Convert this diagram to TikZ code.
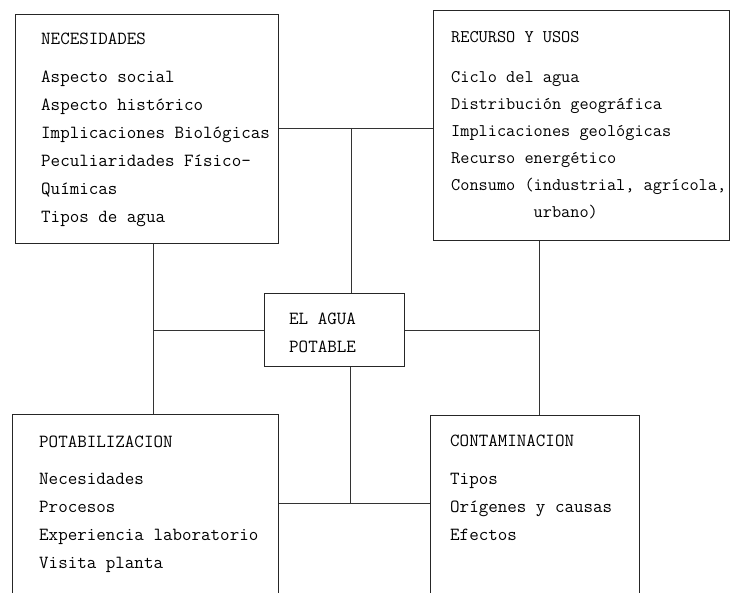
\documentclass[tikz,border=0pt]{standalone}
\usetikzlibrary{positioning}

\tikzset{
  box/.style={draw=black!85, line width=1pt, inner sep=0pt, anchor=north west},
  txt/.style={anchor=north west, inner sep=0pt, align=left,
    font=\ttfamily\fontsize{18.5}{28}\selectfont, text=black},
  link/.style={draw=black!80, line width=0.9pt}
}

\begin{document}
\begin{tikzpicture}[x=1pt, y=-1pt]
  \useasboundingbox (0,0) rectangle (731,593);
  \clip (0,0) rectangle (731,593);
  % boxes
  \node[box, minimum width=263pt, minimum height=229pt] (nec) at (15,14) {};
  \node[box, minimum width=296pt, minimum height=230pt] (rec) at (433,10) {};
  \node[box, minimum width=266pt, minimum height=195pt] (pot) at (12,414) {};
  \node[box, minimum width=209pt, minimum height=195pt] (cont) at (430,415) {};
  \node[box, minimum width=140pt, minimum height=73pt] (mid) at (264,293) {};
  % texts
  \node[txt, below right=19pt and 26pt of nec.north west] (nectxt) {NECESIDADES\\[10pt]
    Aspecto social\\
    Aspecto histórico\\
    Implicaciones Biológicas\\
    Peculiaridades Físico-\\
    Químicas\\
    Tipos de agua};
  \node[txt, below right=21pt and 18pt of rec.north west, font=\ttfamily\fontsize{17.8}{27}\selectfont] (rectxt) {RECURSO Y USOS\\[13pt]
    Ciclo del agua\\
    Distribución geográfica\\
    Implicaciones geológicas\\
    Recurso energético\\
    Consumo (industrial, agrícola,\\
    \phantom{Consumo (}urbano)};
  \node[txt, below right=22pt and 27pt of pot.north west] (pottxt) {POTABILIZACION\\[9pt]
    Necesidades\\
    Procesos\\
    Experiencia laboratorio\\
    Visita planta};
  \node[txt, below right=20pt and 20pt of cont.north west] (conttxt) {CONTAMINACION\\[10pt]
    Tipos\\
    Orígenes y causas\\
    Efectos};
  \node[txt, below right=20pt and 25pt of mid.north west] (midtxt) {EL AGUA\\
    POTABLE};
  % junctions
  \coordinate (jt) at (351,128);
  \coordinate (jb) at (350,503);
  \coordinate (jl) at (153,329);
  \coordinate (jr) at (539,329);
  % connectors
  \draw[link] (nec.east |- jt) -- (rec.west |- jt);
  \draw[link] (jt) -- (jt |- mid.north);
  \draw[link] (nec.south -| jl) -- (pot.north -| jl);
  \draw[link] (rec.south -| jr) -- (cont.north -| jr);
  \draw[link] (mid.west) -- (jl |- mid.west);
  \draw[link] (mid.east) -- (jr |- mid.east);
  \draw[link] (mid.south -| jb) -- (jb);
  \draw[link] (pot.east |- jb) -- (cont.west |- jb);
\end{tikzpicture}
\end{document}
